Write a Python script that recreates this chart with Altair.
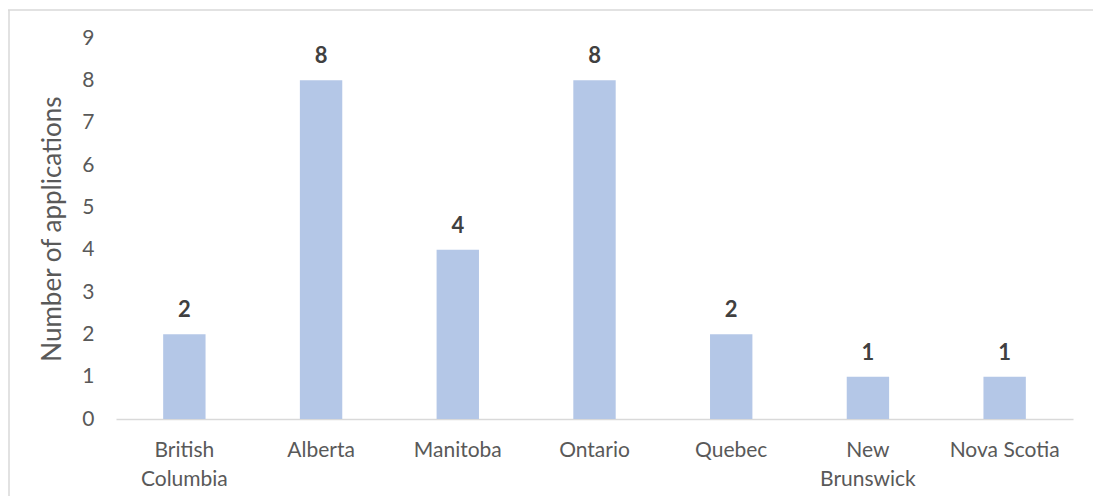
import altair as alt
import pandas as pd

provinces = ["British Columbia", "Alberta", "Manitoba", "Ontario", "Quebec", "New Brunswick", "Nova Scotia"]
applications = [2, 8, 4, 8, 2, 1, 1]
y_ticks = [0, 1, 2, 3, 4, 5, 6, 7, 8, 9]

df = pd.DataFrame({"province": provinces, "applications": applications})

FONT = "Lato"
TXT = "#595959"

label_expr = (
    "datum.label == 'British Columbia' ? ['British', 'Columbia'] : "
    "datum.label == 'New Brunswick' ? ['New', 'Brunswick'] : datum.label"
)

x = alt.X(
    "province:N",
    sort=provinces,
    title=None,
    scale=alt.Scale(paddingInner=0.69, paddingOuter=0.345),
    axis=alt.Axis(
        labelAngle=0,
        labelExpr=label_expr,
        labelFont=FONT,
        labelFontSize=21,
        labelColor=TXT,
        labelLineHeight=29,
        labelPadding=20,
        ticks=False,
        domainColor="#d9d9d9",
        domainWidth=1.5,
        labelLimit=300,
    ),
)
y = alt.Y(
    "applications:Q",
    title="Number of applications",
    scale=alt.Scale(domain=[0, 9], nice=False),
    axis=alt.Axis(
        values=y_ticks,
        grid=False,
        ticks=False,
        domain=False,
        labelFont=FONT,
        labelFontSize=21,
        labelColor=TXT,
        labelPadding=22,
        titleFont=FONT,
        titleFontSize=26,
        titleFontWeight="normal",
        titleColor=TXT,
        titlePadding=16,
    ),
)

bars = alt.Chart(df).mark_bar(color="#B4C7E7").encode(x=x, y=y)
labels = alt.Chart(df).mark_text(
    font=FONT, fontSize=22, fontWeight="bold", color="#404040", dy=-24
).encode(x=x, y="applications:Q", text="applications:Q")

border_top = alt.Chart(pd.DataFrame({"a": [0]})).mark_rule(color="#d9d9d9", strokeWidth=1.5, clip=False).encode(
    x=alt.value(-108), x2=alt.value(985), y=alt.value(-28)
)
border_left = alt.Chart(pd.DataFrame({"a": [0]})).mark_rule(color="#d9d9d9", strokeWidth=1.5, clip=False).encode(
    x=alt.value(-107), y=alt.value(-28), y2=alt.value(480)
)

chart = (
    alt.layer(bars, labels, border_top, border_left)
    .properties(
        width=957,
        height=381,
        background="white",
        autosize=alt.AutoSizeParams(type="none"),
        padding={"left": 108, "top": 30, "right": 20, "bottom": 77},
    )
    .configure_view(strokeWidth=0, stroke="transparent")
)

chart.save("out.html", embed_options={"renderer": "svg", "actions": False})
